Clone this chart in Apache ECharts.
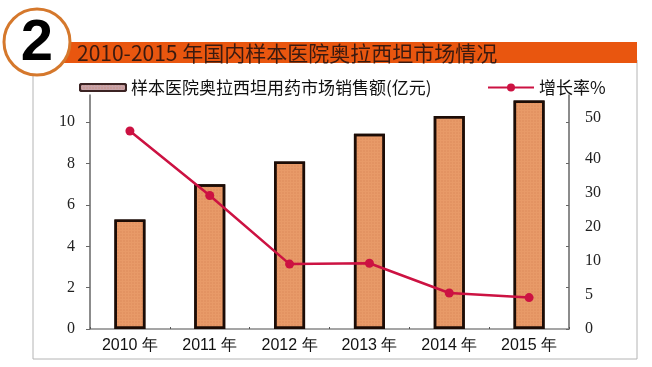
<!DOCTYPE html>
<html><head><meta charset="utf-8">
<script src="https://cdn.jsdelivr.net/npm/echarts@6/dist/echarts.min.js"></script>
<style>html,body{margin:0;padding:0;background:#fff}#c{width:652px;height:367px}</style>
</head><body><div id="c"></div>
<script>
const categories = ['2010 年','2011 年','2012 年','2013 年','2014 年','2015 年'];
const salesValues = [5.3, 7.0, 8.1, 9.45, 10.3, 11.05];
const growthValues = [47.9, 32.3, 15.7, 15.9, 8.7, 7.6];
const leftTicks = [0, 2, 4, 6, 8, 10];
const rightTicks = [0, 10, 20, 30, 40, 50];
const rightLabelTexts = ['0','5','10','20','30','40','50'];
const rightLabelAt = [0, 8.2, 16.4, 24.7, 32.9, 41.1, 51.2];
const barName = '样本医院奥拉西坦用药市场销售额(亿元)';
const lineName = '增长率%';
const titleText = '2010-2015 年国内样本医院奥拉西坦市场情况';

function rightLabel(v){
  let best = 0, d = Infinity;
  rightLabelAt.forEach((p, i) => { const e = Math.abs(p - v); if (e < d) { d = e; best = i; } });
  return rightLabelTexts[best];
}

const chart = echarts.init(document.getElementById('c'), null, {renderer:'canvas'});
const serif = 'Liberation Serif';
const sans = 'Liberation Sans';
const cjk = 'Noto Sans CJK SC';
chart.setOption({
  animation:false,
  backgroundColor:'#fff',
  graphic:[
    {type:'rect', shape:{x:33, y:60, width:604, height:299}, style:{fill:'none', stroke:'#b4b4b4', lineWidth:1}, z:0},
    {type:'rect', shape:{x:55, y:42, width:582, height:21}, style:{fill:'#e9560f'}, z:1},
    {type:'circle', shape:{cx:37, cy:42, r:33}, style:{fill:'#fff', stroke:'#d5782c', lineWidth:3}, z:2},
    {type:'text', x:37, y:44, style:{text:'2', fill:'#000', font:'900 58px "Liberation Sans"', align:'center', verticalAlign:'middle'}, z:3},
    {type:'text', x:77, y:53, style:{text:titleText, fill:'#3a1a10', font:'21px "Noto Sans CJK SC"', verticalAlign:'middle'}, z:3}
  ],
  legend:[
    {data:[{name:barName, icon:'roundRect', itemStyle:{color:'#c8a3a8', borderColor:'#3b2323', borderWidth:2}}],
     left:74, top:74, itemWidth:46, itemHeight:7, itemGap:4,
     textStyle:{fontFamily:cjk, fontSize:17, color:'#111'}},
    {data:[lineName], left:482, top:74, itemWidth:46, itemHeight:10,
     textStyle:{fontFamily:cjk, fontSize:17, color:'#111'}}
  ],
  grid:{left:90, right:83, top:95, bottom:38, containLabel:false},
  xAxis:{
    type:'category', data:categories,
    axisLine:{lineStyle:{color:'#888', width:1.5}},
    axisTick:{show:true, inside:true, length:2, lineStyle:{color:'#555'}},
    axisLabel:{fontFamily:sans, fontSize:16, color:'#111', margin:9}
  },
  yAxis:[
    {type:'value', min:0, max:11.32, position:'left',
     splitLine:{show:false},
     axisLine:{show:true, lineStyle:{color:'#666', width:1.5}},
     axisTick:{show:true, length:4, customValues:leftTicks, lineStyle:{color:'#666'}},
     axisLabel:{customValues:leftTicks, fontFamily:serif, fontSize:16, color:'#222', margin:15}
    },
    {type:'value', min:0, max:56.6, position:'right',
     splitLine:{show:false},
     axisLine:{show:true, lineStyle:{color:'#666', width:1.5}},
     axisTick:{show:true, inside:true, length:3, customValues:rightTicks, lineStyle:{color:'#666'}},
     axisLabel:{show:true, customValues:rightLabelAt, formatter:rightLabel, fontFamily:serif, fontSize:16, color:'#222', margin:16, hideOverlap:false}
    }
  ],
  series:[
    {name:barName, type:'bar', data:salesValues, barWidth:31, yAxisIndex:0,
     itemStyle:{color:'#e89a68', borderColor:'#1c0c06', borderWidth:2.5,
       decal:{symbol:'circle', symbolSize:0.7, dashArrayX:[2,1], dashArrayY:[2,1], color:'rgba(205,115,70,0.45)'}}},
    {name:lineName, type:'line', data:growthValues, yAxisIndex:1,
     symbol:'circle', symbolSize:9, showAllSymbol:true,
     lineStyle:{color:'#cc1242', width:2.5}, itemStyle:{color:'#cc1242'}, z:5}
  ]
});
</script></body></html>
